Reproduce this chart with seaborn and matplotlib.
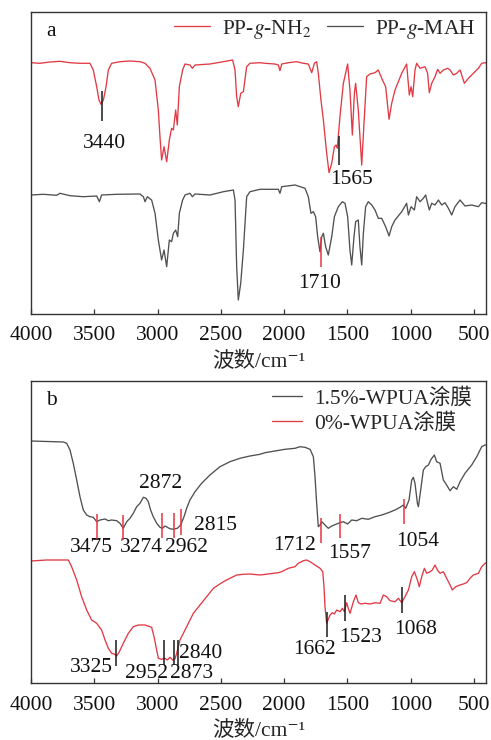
import matplotlib
matplotlib.use("Agg")
import matplotlib.pyplot as plt
import pandas as pd
import seaborn as sns

# ---------------- spectra: wavenumber (cm^-1) and transmittance (a.u.) ----------------
nh2_wn = [4000, 3929, 3850, 3771, 3692, 3613, 3534, 3508, 3481, 3463, 3447, 3428, 3407, 3389,
          3363, 3297, 3218, 3139, 3099, 3060, 3020, 2994, 2981, 2968, 2949, 2928, 2907, 2889,
          2875, 2857, 2844, 2828, 2802, 2783, 2744, 2725, 2704, 2586, 2480, 2407, 2388, 2375,
          2362, 2343, 2322, 2296, 2270, 2191, 2151, 2072, 2046, 2033, 2019, 1967, 1901, 1848,
          1809, 1782, 1761, 1743, 1730, 1709, 1690, 1664, 1645, 1624, 1603, 1590, 1580, 1559,
          1532, 1498, 1480, 1461, 1445, 1435, 1414, 1387, 1366, 1348, 1322, 1282, 1256, 1229,
          1198, 1171, 1150, 1124, 1071, 1032, 1011, 997, 984, 966, 953, 926, 887, 866, 853,
          834, 808, 787, 768, 742, 708, 689, 663, 637, 610, 576, 544, 505, 465, 439, 413, 405]
nh2_t = [251.3, 250.7, 252.0, 252.7, 251.3, 250.7, 250.7, 244.0, 227.3, 214.0, 209.7, 214.0,
         227.3, 244.0, 250.7, 252.3, 253.0, 252.3, 250.7, 245.7, 234.0, 204.0, 177.3, 154.0,
         167.3, 152.3, 174.0, 185.7, 184.0, 204.0, 189.0, 227.3, 244.0, 250.0, 249.0, 245.7,
         249.0, 250.0, 252.3, 254.0, 244.0, 217.3, 207.3, 220.7, 222.3, 247.3, 250.7, 251.3,
         250.7, 250.0, 249.0, 243.3, 250.0, 251.3, 252.3, 250.7, 250.0, 241.3, 250.7, 252.3,
         240.7, 214.0, 194.0, 160.7, 141.3, 150.7, 167.3, 169.0, 165.7, 197.3, 230.7, 250.0,
         224.0, 179.0, 220.7, 230.7, 204.0, 149.0, 197.3, 237.3, 240.0, 241.3, 244.0, 235.7,
         227.3, 194.7, 210.7, 224.0, 240.7, 250.0, 219.0, 227.3, 217.3, 244.0, 250.7, 245.7,
         247.3, 240.7, 221.3, 230.7, 237.3, 244.7, 240.7, 244.0, 245.7, 244.0, 239.0, 240.7,
         244.0, 230.7, 235.7, 240.7, 245.7, 250.7, 251.3, 251.0]

mah_wn = [4000, 3903, 3797, 3771, 3692, 3587, 3481, 3460, 3442, 3323, 3139, 3112, 3099, 3081,
          3047, 3020, 2994, 2968, 2949, 2928, 2907, 2889, 2875, 2857, 2841, 2828, 2802, 2783,
          2744, 2725, 2704, 2586, 2480, 2401, 2388, 2375, 2362, 2343, 2322, 2296, 2270, 2191,
          2151, 2046, 2033, 2019, 1914, 1835, 1809, 1788, 1769, 1751, 1735, 1717, 1703, 1690,
          1672, 1651, 1624, 1603, 1572, 1540, 1519, 1498, 1480, 1466, 1448, 1435, 1414, 1401,
          1387, 1374, 1356, 1335, 1308, 1282, 1256, 1229, 1198, 1171, 1150, 1124, 1071, 1032,
          1018, 997, 971, 953, 926, 900, 882, 866, 853, 834, 808, 781, 755, 729, 702, 676, 650,
          610, 571, 518, 465, 439, 413, 405]
mah_t = [119.0, 119.7, 118.7, 120.7, 118.3, 117.3, 118.0, 112.3, 119.0, 119.7, 120.0, 117.3,
         112.3, 117.3, 114.0, 100.7, 74.0, 54.0, 64.0, 47.3, 74.0, 72.3, 80.7, 84.0, 77.3,
         100.7, 114.0, 119.0, 120.7, 117.3, 120.0, 119.0, 122.3, 124.0, 114.0, 47.3, 14.0,
         30.7, 64.0, 117.3, 122.3, 124.7, 124.7, 124.7, 120.7, 127.3, 129.0, 125.7, 117.3,
         100.7, 102.3, 97.3, 77.3, 62.3, 77.3, 80.7, 67.3, 59.0, 77.3, 97.3, 107.3, 112.3,
         110.7, 97.3, 64.0, 49.0, 77.3, 92.3, 94.0, 67.3, 49.0, 80.7, 107.3, 112.3, 109.0,
         104.0, 95.7, 95.7, 87.3, 78.0, 87.3, 94.0, 102.3, 110.7, 99.0, 107.3, 104.0, 117.3,
         112.3, 115.7, 119.0, 110.7, 104.0, 110.7, 109.0, 114.0, 109.0, 111.3, 105.7, 99.0,
         107.3, 114.0, 108.0, 109.0, 107.3, 111.3, 110.7, 110.5]

wpua15_wn = [4000, 3745, 3718, 3692, 3666, 3639, 3613, 3587, 3560, 3534, 3508, 3481, 3455, 3415,
             3389, 3363, 3323, 3297, 3271, 3244, 3218, 3192, 3165, 3139, 3112, 3091, 3073, 3055,
             3034, 3007, 2981, 2962, 2941, 2923, 2902, 2875, 2844, 2817, 2791, 2770, 2744, 2704,
             2652, 2586, 2507, 2428, 2349, 2270, 2191, 2151, 2072, 1993, 1914, 1874, 1835, 1795,
             1769, 1756, 1743, 1730, 1716, 1703, 1677, 1651, 1624, 1585, 1558, 1532, 1498, 1466,
             1427, 1387, 1335, 1282, 1229, 1176, 1124, 1084, 1058, 1039, 1013, 992, 979, 966,
             947, 939, 921, 900, 881, 860, 839, 813, 795, 768, 742, 716, 689, 663, 636, 610, 571,
             518, 478, 439, 413, 405]
wpua15_t = [242.0, 241.0, 239.7, 233.0, 219.7, 203.0, 186.3, 173.0, 168.0, 166.3, 165.7, 161.3,
            163.0, 164.0, 162.3, 163.0, 162.3, 159.7, 154.7, 161.3, 164.7, 169.7, 176.3, 179.7,
            185.7, 184.7, 181.3, 173.0, 166.3, 159.7, 155.7, 154.7, 157.0, 155.7, 154.3, 153.7,
            154.7, 158.0, 166.3, 174.7, 183.0, 191.3, 199.7, 208.0, 216.3, 221.3, 224.7, 227.0,
            228.7, 230.3, 232.0, 233.7, 234.7, 236.3, 235.7, 233.7, 226.3, 206.3, 179.7, 156.3,
            158.0, 161.3, 158.0, 154.7, 157.0, 159.0, 160.3, 161.3, 159.0, 163.0, 162.3, 164.7,
            163.7, 166.3, 168.0, 170.3, 173.0, 175.7, 178.0, 174.7, 183.0, 203.0, 205.7, 199.7,
            179.7, 176.3, 193.0, 213.0, 216.3, 218.0, 223.7, 228.0, 221.3, 219.7, 203.0, 198.0,
            192.3, 196.3, 193.7, 201.3, 209.7, 218.0, 226.3, 236.3, 238.0, 238.0]

wpua0_wn = [4000, 3876, 3705, 3679, 3639, 3600, 3560, 3521, 3481, 3442, 3415, 3389, 3363, 3344,
            3323, 3302, 3271, 3231, 3192, 3152, 3099, 3047, 3028, 3007, 2994, 2968, 2941, 2923,
            2902, 2881, 2862, 2849, 2823, 2796, 2757, 2717, 2665, 2612, 2559, 2520, 2480, 2428,
            2375, 2322, 2270, 2191, 2125, 2046, 2019, 1967, 1914, 1888, 1848, 1822, 1795, 1756,
            1716, 1695, 1685, 1677, 1664, 1651, 1637, 1619, 1603, 1585, 1558, 1540, 1524, 1506,
            1493, 1479, 1453, 1432, 1414, 1392, 1361, 1321, 1282, 1242, 1216, 1190, 1163, 1124,
            1097, 1071, 1045, 1018, 992, 971, 947, 932, 913, 892, 874, 847, 829, 808, 789, 768,
            742, 716, 689, 671, 644, 610, 584, 558, 531, 505, 465, 439, 413, 405]
wpua0_t = [122.0, 123.0, 123.0, 116.3, 103.0, 86.3, 73.0, 63.0, 59.7, 53.0, 43.0, 34.7, 29.7,
           29.0, 27.0, 31.3, 39.7, 49.7, 56.3, 58.0, 58.0, 55.7, 46.3, 33.0, 24.7, 23.7, 24.7,
           23.0, 25.7, 23.0, 24.3, 29.7, 43.0, 49.7, 59.7, 69.7, 78.0, 86.3, 94.7, 98.0, 101.3,
           104.7, 108.0, 108.7, 109.0, 108.0, 109.0, 110.3, 111.3, 114.7, 116.3, 119.7, 122.3,
           123.0, 121.3, 118.0, 114.7, 111.3, 96.3, 76.3, 59.7, 63.7, 68.0, 70.3, 69.0, 73.0,
           71.3, 74.7, 71.3, 80.3, 74.7, 69.7, 81.3, 88.0, 80.3, 79.0, 79.7, 79.0, 80.3, 79.7,
           88.0, 86.3, 82.3, 81.3, 84.7, 80.3, 86.3, 93.0, 106.3, 111.3, 103.0, 96.3, 106.3,
           114.7, 109.7, 111.3, 113.0, 118.0, 113.0, 109.7, 111.3, 104.7, 98.0, 93.0, 96.3,
           98.0, 99.0, 100.3, 104.7, 108.0, 109.7, 116.3, 119.7, 120.0]

labels_a = ["PP-$\\mathit{g}$-NH$_2$", "PP-$\\mathit{g}$-MAH"]
labels_b = ["1.5%-WPUA涂膜", "0%-WPUA涂膜"]
xticks = [4000, 3500, 3000, 2500, 2000, 1500, 1000, 500]
xlabel = "波数/cm⁻¹"

# assigned bands: (value, marker bottom, marker top, label x, label y, colour key)
bands_a = [(3440, 193, 223, 3423, 170, "k"),
           (1565, 149, 178, 1466, 134, "k"),
           (1710, 47, 77, 1717, 30, "r")]
bands_b = [(3475, 144, 169, 3520, 135, "r"),
           (3274, 143, 168, 3125, 135, "r"),
           (2962, 145, 170, 2770, 135, "r"),
           (2872, 145, 170, 2975, 200, "r"),
           (2815, 148, 174, 2546, 158, "r"),
           (1712, 140, 165, 1920, 138, "r"),
           (1557, 145, 169, 1480, 130, "r"),
           (1054, 159, 184, 948, 141, "r"),
           (3325, 17, 43, 3520, 15, "k"),
           (2952, 18, 43, 3086, 9, "k"),
           (2873, 18, 43, 2730, 9, "k"),
           (2840, 18, 43, 2659, 30, "k"),
           (1662, 46, 71, 1764, 33, "k"),
           (1523, 62, 88, 1393, 46, "k"),
           (1068, 70, 96, 961, 54, "k")]

RED = "#e23a45"
GREY = "#505050"
MARK = {"k": "#1a1a1a", "r": "#e8333f"}
FS = 15.5

sns.set_theme(style="ticks")
plt.rcParams["font.family"] = ["Liberation Serif", "Noto Sans CJK SC", "DejaVu Serif"]
plt.rcParams["mathtext.fontset"] = "stix"
plt.rcParams["axes.unicode_minus"] = False


def spectra_frame(order, series):
    return pd.concat(
        [pd.DataFrame({"wn": wn, "t": t, "sample": name})
         for name, (wn, t) in zip(order, series)],
        ignore_index=True)


df_a = spectra_frame(labels_a, [(nh2_wn, nh2_t), (mah_wn, mah_t)])
df_b = spectra_frame(labels_b, [(wpua15_wn, wpua15_t), (wpua0_wn, wpua0_t)])

fig = plt.figure(figsize=(4.91, 7.40), dpi=100)
ax_a = fig.add_axes([31 / 491, 1 - 314 / 740, 455 / 491, 302 / 740])
ax_b = fig.add_axes([31 / 491, 1 - 683 / 740, 455 / 491, 302 / 740])


def draw(ax, df, order, palette, bands, letter, leg_kw):
    sns.lineplot(data=df, x="wn", y="t", hue="sample", hue_order=order, palette=palette,
                 estimator=None, sort=False, linewidth=0.95, ax=ax)
    for val, y0, y1, lx, ly, c in bands:
        ax.vlines(val, y0, y1, color=MARK[c], linewidth=1.1, zorder=4)
        ax.text(lx, ly, str(val), ha="center", va="center", fontsize=FS, color="#111111")
    ax.set_xlim(4000, 405)
    ax.set_ylim(0, 302)
    ax.set_xticks(xticks)
    ax.set_xticklabels([str(v) for v in xticks])
    ax.set_yticks([])
    ax.set_ylabel("")
    ax.set_xlabel(xlabel, fontsize=FS, labelpad=5)
    ax.tick_params(axis="x", direction="in", length=3.5, width=0.9, labelsize=FS, pad=9,
                   colors="#333333", labelcolor="#111111")
    for s in ax.spines.values():
        s.set_linewidth(1.0)
        s.set_color("#333333")
        s.set_visible(True)
    ax.text(0.033, 0.935, letter, transform=ax.transAxes, fontsize=FS, ha="left",
            va="center", color="#111111")
    handles, labs = ax.get_legend_handles_labels()
    ax.legend(handles, labs, frameon=False, fontsize=FS, borderpad=0, borderaxespad=0,
              loc="upper right", **leg_kw)


draw(ax_a, df_a, labels_a, [RED, GREY], bands_a, "a",
     dict(ncol=2, handlelength=1.67, handletextpad=0.56, columnspacing=0.7,
          bbox_to_anchor=((475 - 31) / 455, (314 - 18) / 302)))
draw(ax_b, df_b, labels_b, [GREY, RED], bands_b, "b",
     dict(ncol=1, handlelength=1.4, handletextpad=0.56, labelspacing=0.2,
          bbox_to_anchor=((472 - 31) / 455, (683 - 388) / 302)))

fig.savefig("out.png", dpi=100)
